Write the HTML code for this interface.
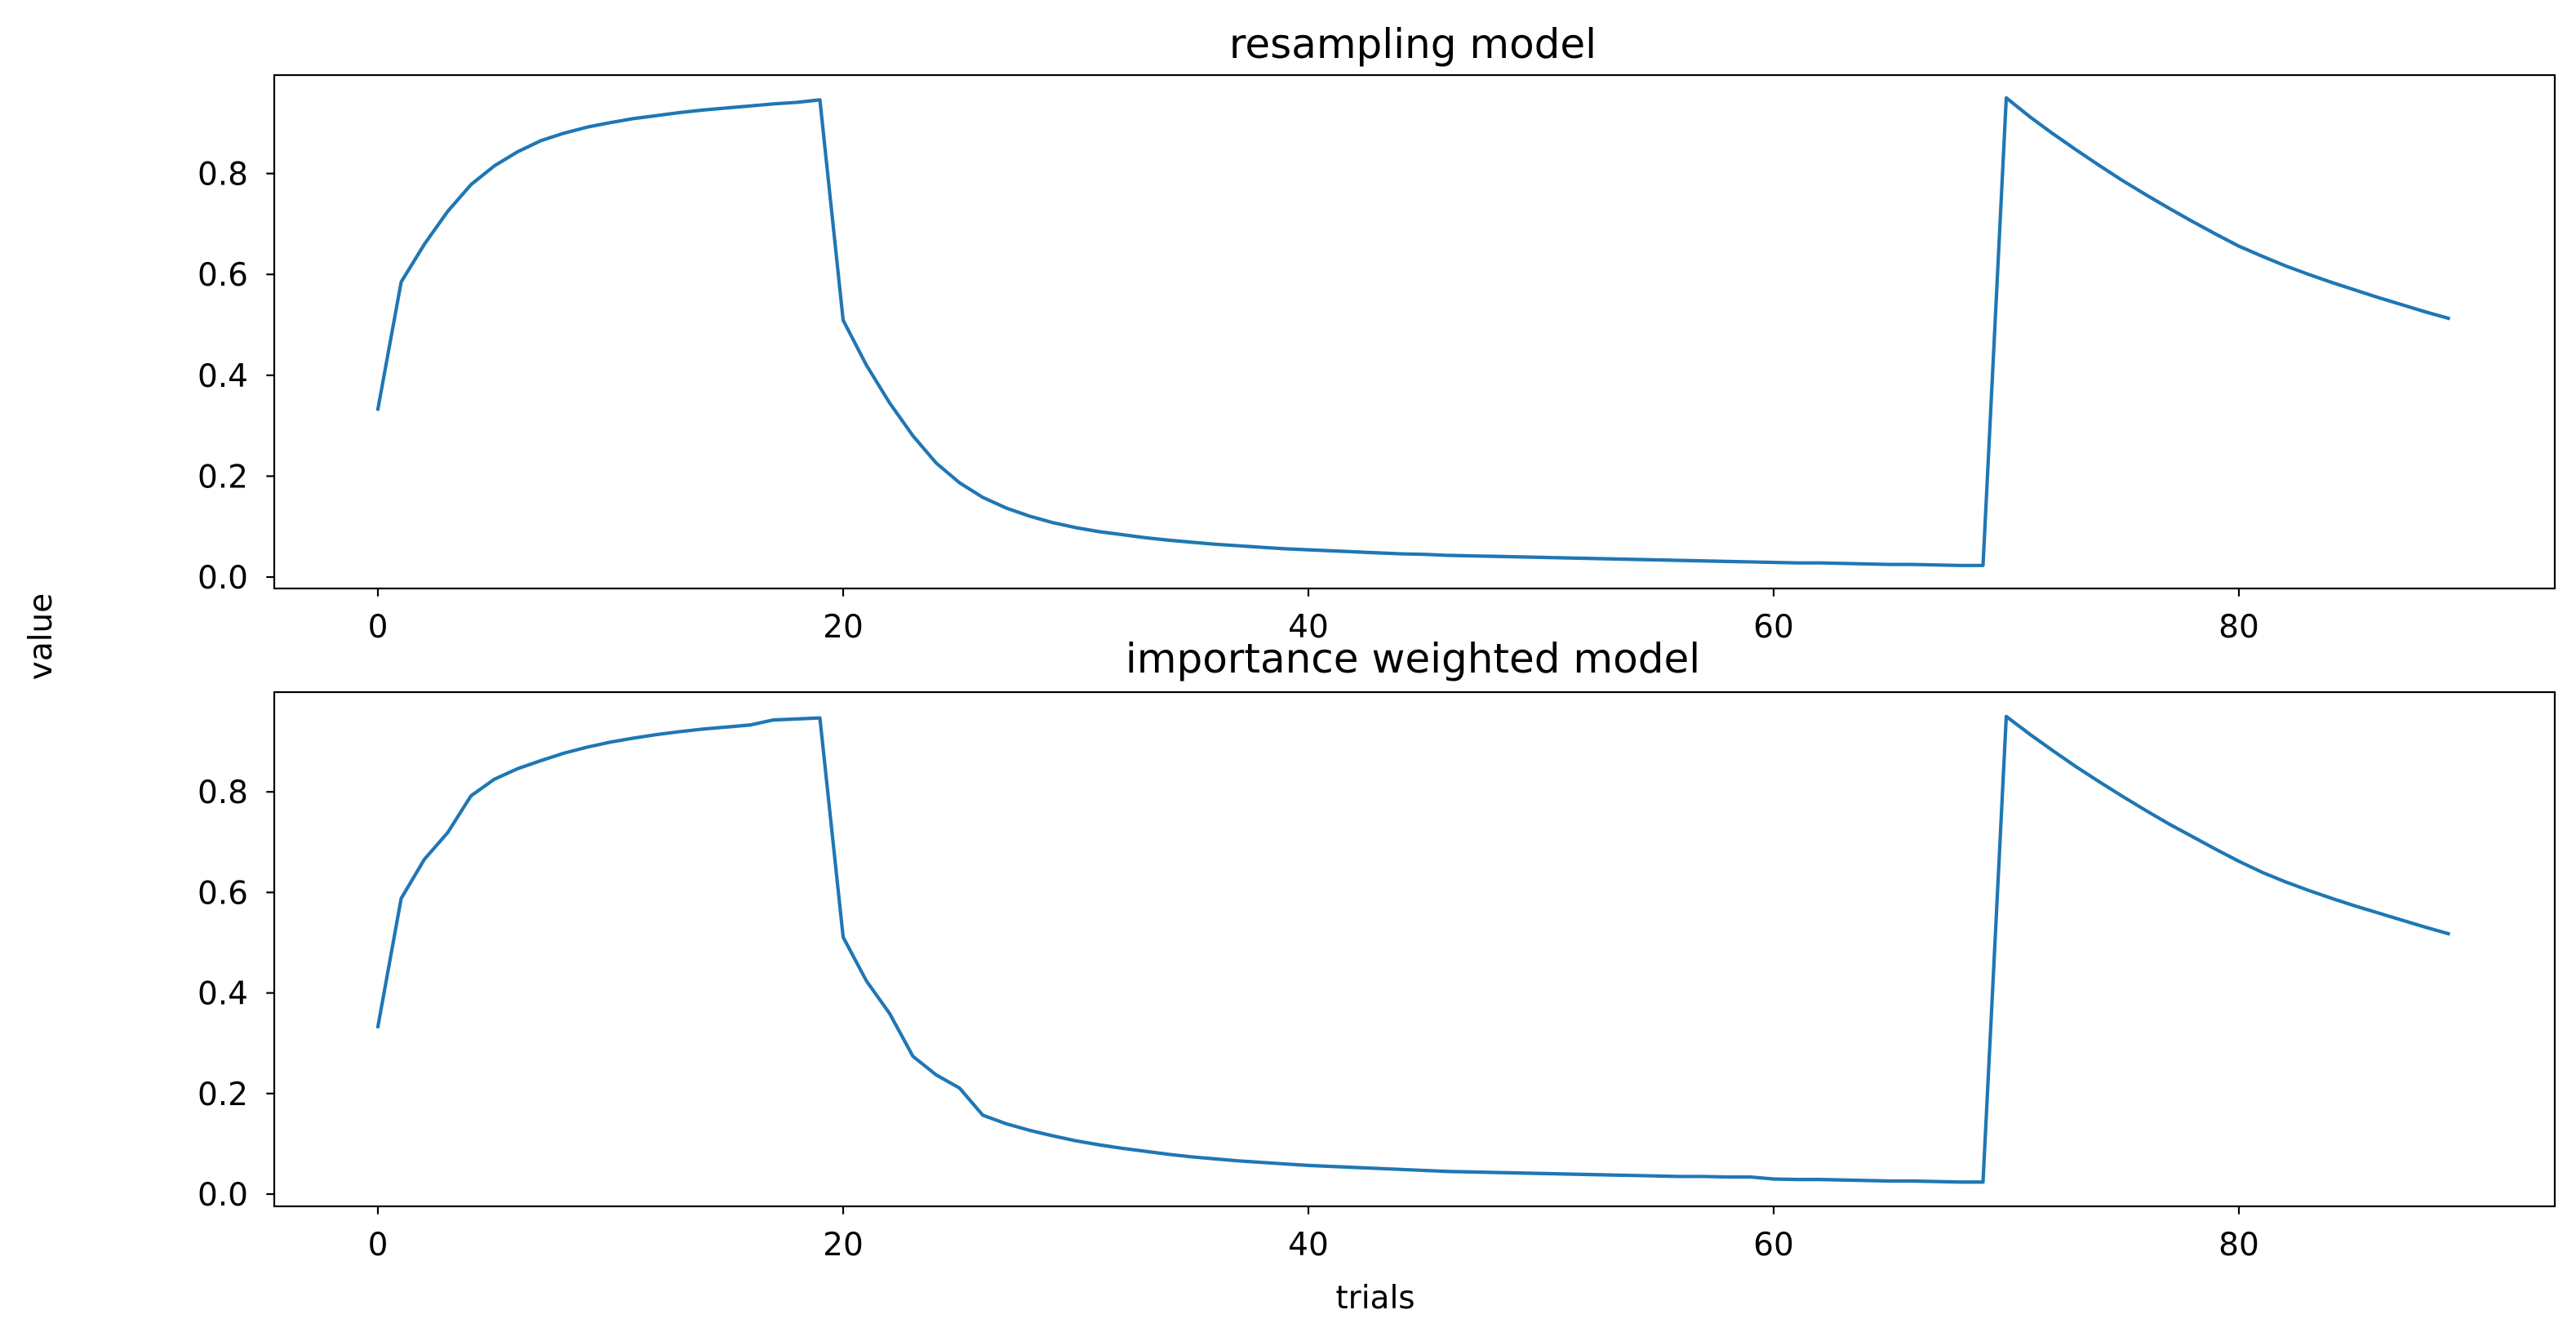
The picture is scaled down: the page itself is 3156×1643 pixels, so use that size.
<!DOCTYPE html>
<html>
<head>
<meta charset="utf-8">
<style>
  html, body { margin: 0; padding: 0; background: #ffffff; }
  svg { display: block; }
  text { font-family: "DejaVu Sans", "Liberation Sans", sans-serif; fill: #000; }
</style>
</head>
<body>
<svg id="fig" width="3156" height="1643" viewBox="0 0 3156 1643" xmlns="http://www.w3.org/2000/svg">
  <rect x="0" y="0" width="3156" height="1643" fill="#ffffff"/>
  <text x="1731" y="71" font-size="50" text-anchor="middle">resampling model</text>
  <text x="1731" y="824" font-size="50" text-anchor="middle">importance weighted model</text>
  <text x="0" y="0" font-size="39" text-anchor="middle" transform="translate(63,780) rotate(-90)">value</text>
  <text x="1685" y="1603" font-size="39" text-anchor="middle">trials</text>
  <g id="top"></g>
  <g id="bottom"></g>
</svg>
<script>
const trials = Array.from({length: 90}, (_, i) => i);
const resamplingValues = [
  0.333,0.585,0.660,0.725,0.778,0.815,0.843,0.865,0.880,0.892,
  0.901,0.909,0.915,0.921,0.926,0.930,0.934,0.938,0.941,0.946,
  0.509,0.420,0.345,0.280,0.226,0.187,0.158,0.137,0.121,0.108,
  0.098,0.090,0.084,0.078,0.073,0.069,0.065,0.062,0.059,0.056,
  0.054,0.052,0.050,0.048,0.046,0.045,0.043,0.042,0.041,0.040,
  0.039,0.038,0.037,0.036,0.035,0.034,0.033,0.032,0.031,0.030,
  0.029,0.028,0.028,0.027,0.026,0.025,0.025,0.024,0.023,0.023,
  0.950,0.913,0.879,0.847,0.816,0.786,0.758,0.731,0.705,0.680,
  0.656,0.636,0.617,0.600,0.584,0.569,0.554,0.540,0.526,0.513
];
const importanceValues = [
  0.333,0.588,0.666,0.719,0.792,0.825,0.846,0.862,0.877,0.889,
  0.899,0.907,0.914,0.920,0.925,0.929,0.933,0.943,0.945,0.947,
  0.511,0.424,0.359,0.274,0.237,0.211,0.157,0.140,0.127,0.116,
  0.106,0.098,0.091,0.085,0.079,0.074,0.070,0.066,0.063,0.060,
  0.057,0.055,0.053,0.051,0.049,0.047,0.045,0.044,0.043,0.042,
  0.041,0.040,0.039,0.038,0.037,0.036,0.035,0.035,0.034,0.034,
  0.030,0.029,0.029,0.028,0.027,0.026,0.026,0.025,0.024,0.024,
  0.950,0.915,0.882,0.850,0.820,0.791,0.763,0.736,0.711,0.686,
  0.662,0.640,0.621,0.604,0.588,0.573,0.559,0.545,0.531,0.518
];
const xTicks = [0, 20, 40, 60, 80];
const yTicks = [0.0, 0.2, 0.4, 0.6, 0.8];
const yTickLabels = ["0.0", "0.2", "0.4", "0.6", "0.8"];

const NS = "http://www.w3.org/2000/svg";
function mk(tag, attrs, parent) {
  const e = document.createElementNS(NS, tag);
  for (const k in attrs) e.setAttribute(k, attrs[k]);
  parent.appendChild(e);
  return e;
}

function drawPanel(g, values, box, prefix) {
  const xScale = t => 463 + t * 28.5;
  const yScale = v => box.y0 - v * box.k;

  const pts = trials.map((t, i) => xScale(t).toFixed(2) + "," + yScale(values[i]).toFixed(2)).join(" ");
  const line = mk("polyline", {points: pts, fill: "none", stroke: "#1f77b4", "stroke-width": 4.2, "stroke-linejoin": "round", "stroke-linecap": "square"}, g);
  
  

  xTicks.forEach(t => {
    const x = xScale(t);
    const tk = mk("line", {x1: x, x2: x, y1: box.bottom, y2: box.bottom + 9.7, stroke: "#000", "stroke-width": 2.2}, g);
    
    
    const lb = mk("text", {x: x, y: box.bottom + 60, "font-size": 39, "text-anchor": "middle"}, g);
    lb.textContent = String(t);
    
    
  });
  yTicks.forEach((v, i) => {
    const y = yScale(v);
    const tk = mk("line", {x1: box.left - 9.7, x2: box.left, y1: y, y2: y, stroke: "#000", "stroke-width": 2.2}, g);
    
    
    const lb = mk("text", {x: 304, y: y + 14, "font-size": 39, "text-anchor": "end"}, g);
    lb.textContent = yTickLabels[i];
    
    
  });

  const frame = mk("rect", {x: box.left, y: box.top, width: box.right - box.left, height: box.bottom - box.top, fill: "none", stroke: "#000", "stroke-width": 2.2}, g);
  
  
}

drawPanel(document.getElementById("top"), resamplingValues,
  {left: 336, right: 3130, top: 92, bottom: 721, y0: 707, k: 618}, "resampling");
drawPanel(document.getElementById("bottom"), importanceValues,
  {left: 336, right: 3130, top: 848, bottom: 1478, y0: 1463, k: 616}, "importance");
</script>
</body>
</html>
